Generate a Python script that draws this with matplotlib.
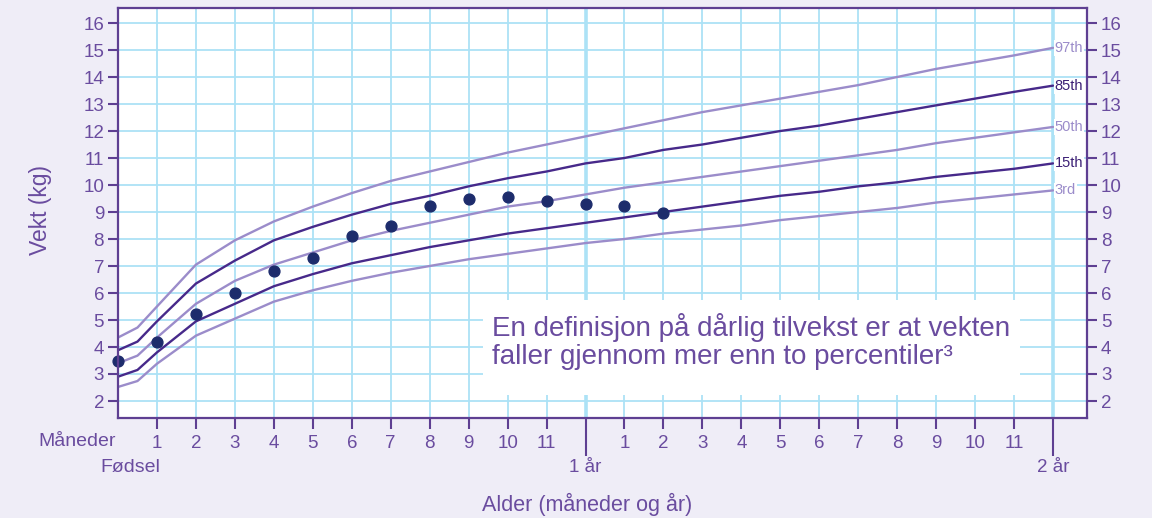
import matplotlib
matplotlib.use("Agg")
import matplotlib.pyplot as plt
from matplotlib.patches import Rectangle
import matplotlib.transforms as mtransforms

plt.rcParams['font.family'] = ['Liberation Sans', 'DejaVu Sans']

# ---------------- data ----------------
ages = [0, 0.5, 1, 2, 3, 4, 5, 6, 7, 8, 9, 10, 11, 12,
        13, 14, 15, 16, 17, 18, 19, 20, 21, 22, 23, 24]
p97 = [4.35, 4.72, 5.5, 7.05, 7.95, 8.65, 9.2, 9.7, 10.15, 10.5, 10.85, 11.2, 11.5, 11.8,
       12.1, 12.4, 12.7, 12.95, 13.2, 13.45, 13.7, 14.0, 14.3, 14.55, 14.8, 15.08]
p85 = [3.88, 4.2, 4.95, 6.35, 7.2, 7.95, 8.45, 8.9, 9.3, 9.6, 9.95, 10.25, 10.5, 10.8,
       11.0, 11.3, 11.5, 11.75, 12.0, 12.2, 12.45, 12.7, 12.95, 13.2, 13.45, 13.68]
p50 = [3.4, 3.68, 4.35, 5.6, 6.45, 7.05, 7.5, 7.95, 8.3, 8.6, 8.9, 9.2, 9.4, 9.65,
       9.9, 10.1, 10.3, 10.5, 10.7, 10.9, 11.1, 11.3, 11.55, 11.75, 11.95, 12.15]
p15 = [2.9, 3.15, 3.8, 4.95, 5.6, 6.25, 6.7, 7.1, 7.4, 7.7, 7.95, 8.2, 8.4, 8.6,
       8.8, 9.0, 9.2, 9.4, 9.6, 9.75, 9.95, 10.1, 10.3, 10.45, 10.6, 10.8]
p3 = [2.52, 2.74, 3.38, 4.42, 5.05, 5.68, 6.1, 6.45, 6.75, 7.0, 7.25, 7.45, 7.65, 7.85,
      8.0, 8.2, 8.35, 8.5, 8.7, 8.85, 9.0, 9.15, 9.35, 9.5, 9.65, 9.8]

child_months = [0, 1, 2, 3, 4, 5, 6, 7, 8, 9, 10, 11, 12, 13, 14]
child_weight = [3.48, 4.19, 5.22, 6.0, 6.81, 7.3, 8.11, 8.48, 9.22, 9.48, 9.56, 9.41, 9.3, 9.22, 8.96]

curve_labels = ["97th", "85th", "50th", "15th", "3rd"]
month_ticks = [1, 2, 3, 4, 5, 6, 7, 8, 9, 10, 11, 13, 14, 15, 16, 17, 18, 19, 20, 21, 22, 23]
month_tick_labels = ["1", "2", "3", "4", "5", "6", "7", "8", "9", "10", "11",
                     "1", "2", "3", "4", "5", "6", "7", "8", "9", "10", "11"]
year_ticks = [12, 24]
year_labels = ["1 år", "2 år"]
y_ticks = list(range(2, 17))

# ---------------- style ----------------
BG = "#efedf7"
PURPLE = "#6a4c9f"
SPINE = "#5e3f92"
GRID = "#ace2f6"
LIGHT = "#9b8cca"
DARK = "#47298a"
DOT = "#1d2c6c"

fig = plt.figure(figsize=(11.52, 5.18), dpi=100, facecolor=BG)
ax = fig.add_axes([118 / 1152, 1 - 418 / 518, (1087 - 118) / 1152, (418 - 8) / 518])
ax.set_facecolor("white")
ax.set_xlim(0, 24 + 34 / 39)
ax.set_ylim(16 - 395 / 27, 16 + 15 / 27)

# grid
for m in range(1, 24):
    if m in year_ticks:
        continue
    ax.axvline(m, color=GRID, lw=1.3, zorder=1)
for yr in year_ticks:
    ax.axvline(yr, color=GRID, lw=2.6, zorder=1)
for v in y_ticks:
    ax.axhline(v, color=GRID, lw=1.3, zorder=1)

# curves
series = [p97, p85, p50, p15, p3]
colors = [LIGHT, DARK, LIGHT, DARK, LIGHT]
for s, c, lab in zip(series, colors, curve_labels):
    ax.plot(ages, s, color=c, lw=1.7, zorder=3, solid_capstyle='round',
            solid_joinstyle='round')
    ax.text(24.04, s[-1], lab, color=c if c == LIGHT else "#3b1f75", fontsize=10.5,
            family=['Liberation Sans Narrow', 'Liberation Sans'], va='center', ha='left',
            zorder=4, bbox=dict(facecolor='white', edgecolor='none', pad=0.6))

# child measurements
ax.plot(child_months, child_weight, 'o', color=DOT, ms=7.8, zorder=5, clip_on=False)

# text box
ax.add_patch(Rectangle((9.38, 2.22), 23.15 - 9.38, 5.74 - 2.22, facecolor='white',
                       edgecolor='none', zorder=2))
ax.text(9.6, 4.74, "En definisjon på dårlig tilvekst er at vekten", color=PURPLE,
        fontsize=20, va='center', ha='left', zorder=4)
ax.text(9.6, 3.63, "faller gjennom mer enn to percentiler³", color=PURPLE,
        fontsize=20, va='center', ha='left', zorder=4)

# spines
for sp in ax.spines.values():
    sp.set_color(SPINE)
    sp.set_linewidth(1.6)
    sp.set_zorder(6)

# y ticks both sides
ax.set_yticks(y_ticks)
ax.set_yticklabels([str(v) for v in y_ticks])
ax.tick_params(axis='y', which='major', direction='out', length=7, width=1.5, color=SPINE,
               labelcolor=PURPLE, labelsize=13.5, left=True, right=True,
               labelleft=True, labelright=True, pad=3)

# x ticks
ax.set_xticks(month_ticks)
ax.set_xticklabels(month_tick_labels)
ax.set_xticks(year_ticks, minor=True)
ax.tick_params(axis='x', which='major', direction='out', length=8, width=1.5, color=SPINE,
               labelcolor=PURPLE, labelsize=13.5, pad=4)
ax.tick_params(axis='x', which='minor', direction='out', length=27, width=1.5, color=SPINE,
               labelbottom=False)

trans = mtransforms.blended_transform_factory(ax.transData, fig.transFigure)
for yr, lab in zip(year_ticks, year_labels):
    ax.text(yr, 1 - 467 / 518, lab, transform=trans, ha='center', va='center',
            color=PURPLE, fontsize=13.5)

fig.text(116 / 1152, 1 - 442 / 518, "Måneder", ha='right', va='center', color=PURPLE, fontsize=14)
fig.text(130 / 1152, 1 - 467 / 518, "Fødsel", ha='center', va='center', color=PURPLE, fontsize=14)
fig.text(587 / 1152, 1 - 504 / 518, "Alder (måneder og år)", ha='center', va='center',
         color=PURPLE, fontsize=15.5)
fig.text(40 / 1152, 1 - 210 / 518, "Vekt (kg)", ha='center', va='center', rotation=90,
         color=PURPLE, fontsize=16.5)

fig.savefig("out.png", dpi=100, facecolor=BG)
